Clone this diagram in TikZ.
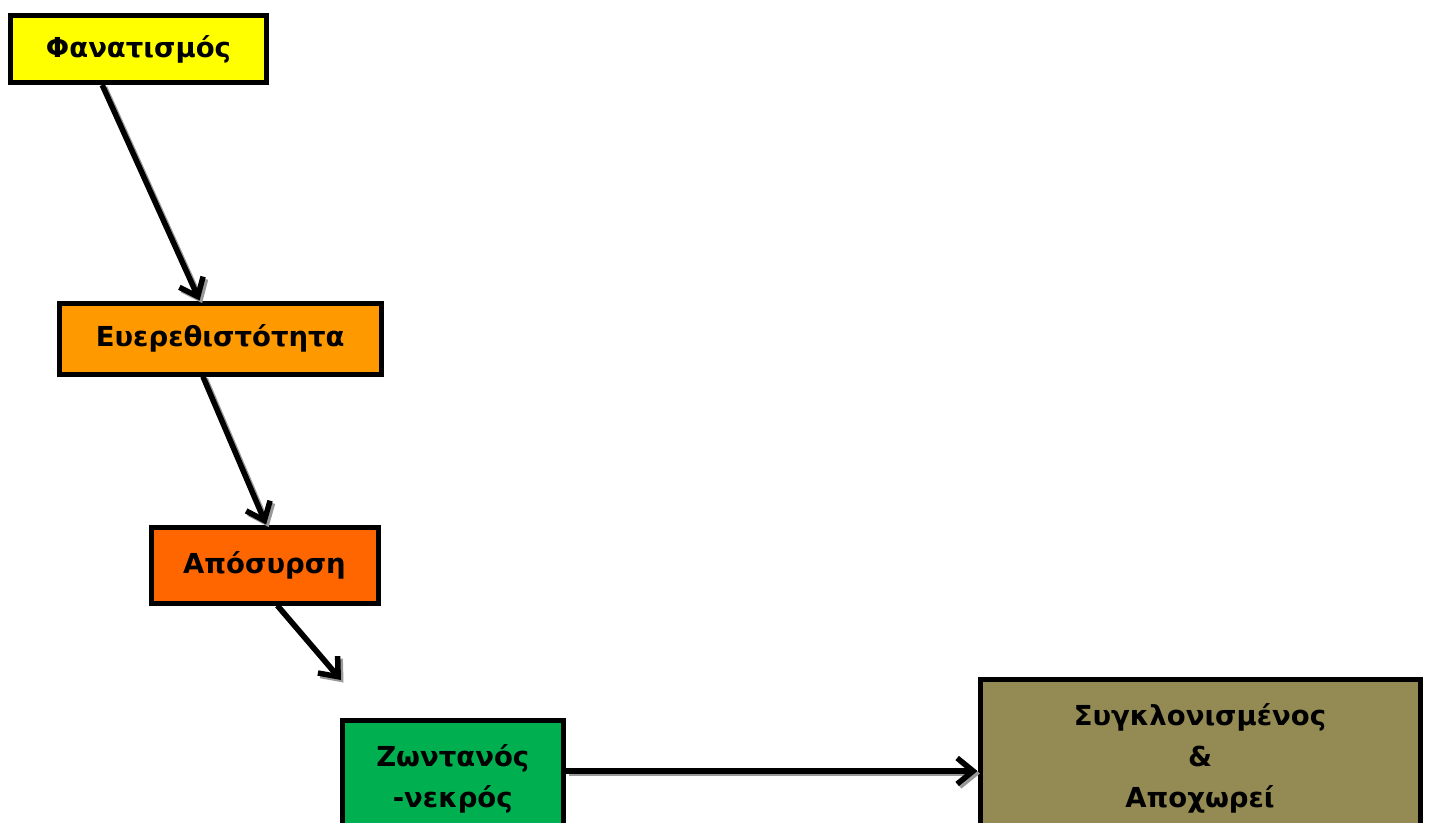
\documentclass[tikz,border=0pt]{standalone}
\usepackage{fontspec}
\setmainfont{DejaVu Sans}
\usetikzlibrary{arrows.meta,calc}
\definecolor{cyellow}{HTML}{FFFF00}
\definecolor{corange}{HTML}{FF9900}
\definecolor{cred}{HTML}{FF6600}
\definecolor{cgreen}{HTML}{00B050}
\definecolor{colive}{HTML}{948A54}
\tikzset{
  box/.style={draw=black, line width=5pt, rectangle, inner sep=0pt, align=center,
    font=\fontsize{27.5}{41}\selectfont\bfseries, text=black},
  conn/.style={line width=5.5pt, draw=black,
    -{Straight Barb[length=16pt,width=26pt]}},
  connshadow/.style={conn, draw=black!40, transform canvas={shift={(2.5pt,-2.5pt)}}}
}
\begin{document}
\begin{tikzpicture}[x=1pt,y=-1pt]
\useasboundingbox (0,0) rectangle (1429,822);
\clip (0,0) rectangle (1429,822);
\node[box, fill=cyellow, minimum width=256pt, minimum height=67pt] (f) at (138.5,49) {Φανατισμός};
\node[box, fill=corange, minimum width=322.5pt, minimum height=71pt] (e) at (220.25,338.5) {Ευερεθιστότητα};
\node[box, fill=cred, minimum width=227pt, minimum height=76pt] (a) at (264.5,565) {Απόσυρση};
\node[box, fill=cgreen, minimum width=221.5pt, minimum height=118pt] (z) at (452.75,779) {Ζωντανός\\-νεκρός};
\node[box, fill=colive, minimum width=440pt, minimum height=158pt] (s) at (1200,758) {Συγκλονισμένος\\\&\\Αποχωρεί};
\coordinate (t3) at (341,680);
\draw[connshadow] ($(f.south west)!0.361!(f.south east)$) -- ($(e.north west)!0.437!(e.north east)$);
\draw[conn] ($(f.south west)!0.361!(f.south east)$) -- ($(e.north west)!0.437!(e.north east)$);
\draw[connshadow] ($(e.south west)!0.447!(e.south east)$) -- ($(a.north west)!0.507!(a.north east)$);
\draw[conn] ($(e.south west)!0.447!(e.south east)$) -- ($(a.north west)!0.507!(a.north east)$);
\draw[connshadow] ($(a.south west)!0.555!(a.south east)$) -- (t3);
\draw[conn] ($(a.south west)!0.555!(a.south east)$) -- (t3);
\draw[connshadow] (z.east |- 0,771) -- (s.west |- 0,771);
\draw[conn] (z.east |- 0,771) -- (s.west |- 0,771);
\end{tikzpicture}
\end{document}
